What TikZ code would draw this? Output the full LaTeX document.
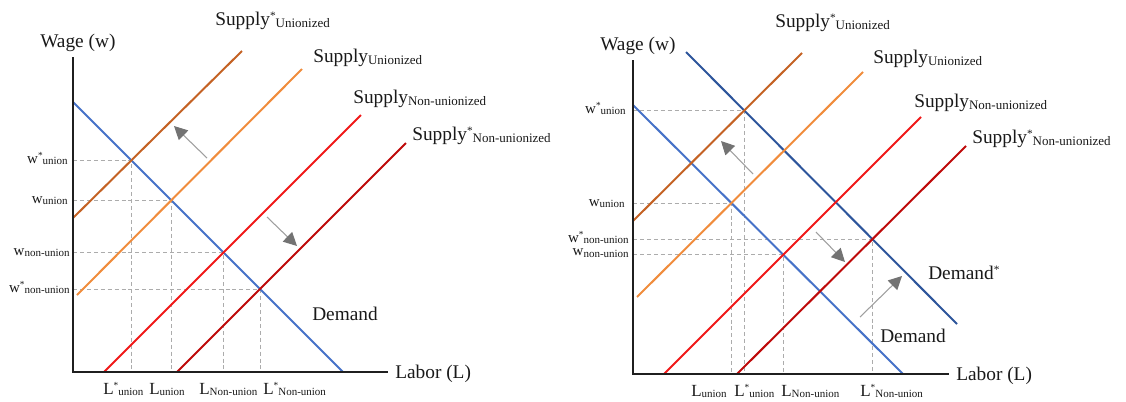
\documentclass[tikz,border=0pt]{standalone}
\usepackage{fontspec}
\setmainfont{Liberation Serif}
\usetikzlibrary{arrows.meta}
\definecolor{demcol}{RGB}{70,114,200}
\definecolor{demstarcol}{RGB}{45,85,155}
\definecolor{sUstarcol}{RGB}{196,98,36}
\definecolor{sUcol}{RGB}{240,140,60}
\definecolor{sNcol}{RGB}{240,25,25}
\definecolor{sNstarcol}{RGB}{190,10,10}
\definecolor{txtcol}{RGB}{25,25,25}
\newcommand{\subl}[1]{\raisebox{-0.25ex}{\fontsize{9.75}{10}\selectfont #1}}
\newcommand{\subt}[1]{\raisebox{-0.2ex}{\fontsize{8.25}{9}\selectfont #1}}
\newcommand{\strl}{\raisebox{0.3em}{\fontsize{8.5}{8.5}\selectfont *}}
\newcommand{\strt}{\raisebox{0.32em}{\fontsize{7}{7}\selectfont *}}
\begin{document}
\begin{tikzpicture}[x=0.75pt,y=-0.75pt,
  axisline/.style={line width=2pt,draw=black!88},
  curve/.style={line width=1.5pt},
  guide/.style={draw=gray!65,line width=0.7pt,dash pattern=on 3pt off 2.2pt},
  shiftarrow/.style={draw=gray!75,line width=0.8pt,-{Triangle[length=10pt,width=10pt,color=gray!90!black]}},
  lab/.style={inner sep=0pt,font=\fontsize{14.5}{17}\selectfont,text=txtcol},
  wtick/.style={inner sep=0pt,font=\fontsize{11.25}{13}\selectfont,text=txtcol,anchor=base east},
  ltick/.style={inner sep=0pt,font=\fontsize{12.75}{14}\selectfont,text=txtcol,anchor=base west},
]
\useasboundingbox (0,0) rectangle (1126,401);

% ================= LEFT PANEL =================
\coordinate (LO) at (73,372);
\coordinate (LYt) at (73,57);
\coordinate (LXe) at (388,372);
\coordinate (LD1) at (73,102);  \coordinate (LD2) at (343,372);
\coordinate (LA1) at (73,218);  \coordinate (LA2) at (242,51);
\coordinate (LB1) at (77,295);  \coordinate (LB2) at (302,69);
\coordinate (LC1) at (104,372); \coordinate (LC2) at (361,115);
\coordinate (LE1) at (177,372); \coordinate (LE2) at (406,143);
\coordinate (LiA) at (intersection of LD1--LD2 and LA1--LA2);
\coordinate (LiB) at (intersection of LD1--LD2 and LB1--LB2);
\coordinate (LiC) at (intersection of LD1--LD2 and LC1--LC2);
\coordinate (LiE) at (intersection of LD1--LD2 and LE1--LE2);

\foreach \p in {LiA,LiB,LiC,LiE}{
  \draw[guide] (LO |- \p) -- (\p) -- (\p |- LO);
}

\draw[curve,demcol] (LD1) -- (LD2);
\draw[curve,sUstarcol] (LA1) -- (LA2);
\draw[curve,sUcol] (LB1) -- (LB2);
\draw[curve,sNcol] (LC1) -- (LC2);
\draw[curve,sNstarcol] (LE1) -- (LE2);
\draw[axisline] (LYt) -- (LO) -- (LXe);

\coordinate (La1s) at (207,158); \coordinate (La1e) at (174,126);
\coordinate (La2s) at (267,217); \coordinate (La2e) at (297,246);
\draw[shiftarrow] (La1s) -- (La1e);
\draw[shiftarrow] (La2s) -- (La2e);

\node[lab,anchor=base west] (Lwage) at ([shift={(-33,-10)}]LYt) {Wage (w)};
\node[lab,anchor=base west] (Llabor) at ([shift={(7,6)}]LXe) {Labor (L)};
\node[lab,anchor=base west] (LsUs) at (215,25) {Supply\strl\subl{Unionized}};
\node[lab,anchor=base west] (LsU) at (313,62) {Supply\subl{Unionized}};
\node[lab,anchor=base west] (LsN) at (353,103) {Supply\subl{Non-unionized}};
\node[lab,anchor=base west] (LsNs) at (412,140) {Supply\strl\subl{Non-unionized}};
\node[lab,anchor=base west] (Ldem) at (312,320) {Demand};

\node[wtick] (Lw1) at ([shift={(-5,3)}]LO |- LiA) {w\strt\subt{union}};
\node[wtick] (Lw2) at ([shift={(-5,3)}]LO |- LiB) {w\subt{union}};
\node[wtick] (Lw3) at ([shift={(-3,3)}]LO |- LiC) {w\subt{non-union}};
\node[wtick] (Lw4) at ([shift={(-3,3)}]LO |- LiE) {w\strt\subt{non-union}};

\node[ltick] (Ll1) at (103,394) {L\strt\subt{union}};
\node[ltick] (Ll2) at (149,394) {L\subt{union}};
\node[ltick] (Ll3) at (199,394) {L\subt{Non-union}};
\node[ltick] (Ll4) at (263,394) {L\strt\subt{Non-union}};

% ================= RIGHT PANEL =================
\coordinate (RO) at (633,374);
\coordinate (RYt) at (633,60);
\coordinate (RXe) at (949,374);
\coordinate (RD1) at (633,105);  \coordinate (RD2) at (903,374);
\coordinate (RS1) at (686,52);   \coordinate (RS2) at (957,324);
\coordinate (RA1) at (633,221);  \coordinate (RA2) at (802,53);
\coordinate (RB1) at (637,297);  \coordinate (RB2) at (863,72);
\coordinate (RC1) at (664,374);  \coordinate (RC2) at (921,117);
\coordinate (RE1) at (737,374);  \coordinate (RE2) at (966,146);
\coordinate (RiA) at (intersection of RS1--RS2 and RA1--RA2);
\coordinate (RiB) at (intersection of RD1--RD2 and RB1--RB2);
\coordinate (RiE) at (intersection of RS1--RS2 and RE1--RE2);
\coordinate (RiC) at (intersection of RD1--RD2 and RC1--RC2);

\foreach \p in {RiA,RiB,RiC,RiE}{
  \draw[guide] (RO |- \p) -- (\p) -- (\p |- RO);
}

\draw[curve,demcol] (RD1) -- (RD2);
\draw[curve,demstarcol] (RS1) -- (RS2);
\draw[curve,sUstarcol] (RA1) -- (RA2);
\draw[curve,sUcol] (RB1) -- (RB2);
\draw[curve,sNcol] (RC1) -- (RC2);
\draw[curve,sNstarcol] (RE1) -- (RE2);
\draw[axisline] (RYt) -- (RO) -- (RXe);

\coordinate (Ra1s) at (753,174); \coordinate (Ra1e) at (721,141);
\coordinate (Ra2s) at (816,232); \coordinate (Ra2e) at (845,262);
\coordinate (Ra3s) at (860,317); \coordinate (Ra3e) at (902,276);
\draw[shiftarrow] (Ra1s) -- (Ra1e);
\draw[shiftarrow] (Ra2s) -- (Ra2e);
\draw[shiftarrow] (Ra3s) -- (Ra3e);

\node[lab,anchor=base west] (Rwage) at ([shift={(-33,-10)}]RYt) {Wage (w)};
\node[lab,anchor=base west] (Rlabor) at ([shift={(7,6)}]RXe) {Labor (L)};
\node[lab,anchor=base west] (RsUs) at (775,27) {Supply\strl\subl{Unionized}};
\node[lab,anchor=base west] (RsU) at (873,63) {Supply\subl{Unionized}};
\node[lab,anchor=base west] (RsN) at (914,107) {Supply\subl{Non-unionized}};
\node[lab,anchor=base west] (RsNs) at (972,143) {Supply\strl\subl{Non-unionized}};
\node[lab,anchor=base west] (Rdems) at (928,279) {Demand\strl};
\node[lab,anchor=base west] (Rdem) at (880,342) {Demand};

\node[wtick] (Rw1) at ([shift={(-7,3)}]RO |- RiA) {w\strt\subt{union}};
\node[wtick] (Rw2) at ([shift={(-8,3)}]RO |- RiB) {w\subt{union}};
\node[wtick] (Rw3) at ([shift={(-4,3)}]RO |- RiE) {w\strt\subt{non-union}};
\node[wtick] (Rw4) at ([shift={(-4,1)}]RO |- RiC) {w\subt{non-union}};

\node[ltick] (Rl1) at (691,396) {L\subt{union}};
\node[ltick] (Rl2) at (734,396) {L\strt\subt{union}};
\node[ltick] (Rl3) at (781,396) {L\subt{Non-union}};
\node[ltick] (Rl4) at (860,396) {L\strt\subt{Non-union}};
\end{tikzpicture}
\end{document}
